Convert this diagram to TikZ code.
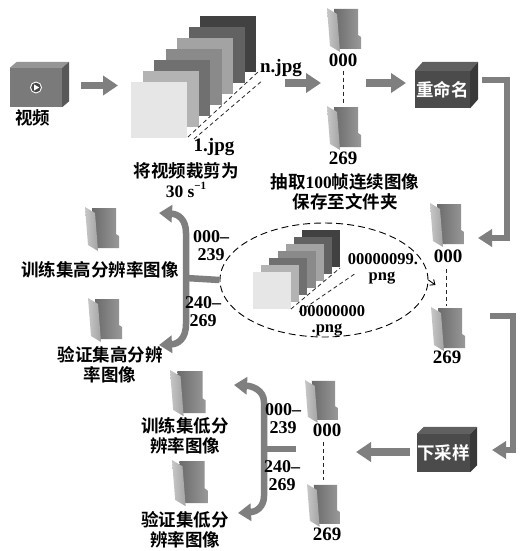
\documentclass[tikz,border=0pt]{standalone}
\usepackage{fontspec}
\setmainfont{Liberation Serif}
\newfontfamily\cjk{Noto Sans CJK SC}[BoldFont={Noto Sans CJK SC Bold}]
\usetikzlibrary{arrows.meta,shapes.geometric}

\definecolor{ag}{HTML}{7F7F7F}
\definecolor{s1}{HTML}{E6E6E6}
\definecolor{s2}{HTML}{B3B3B3}
\definecolor{s3}{HTML}{707070}
\definecolor{s4}{HTML}{8A8A8A}
\definecolor{s5}{HTML}{A3A3A3}
\definecolor{s6}{HTML}{626262}
\definecolor{s7}{HTML}{414141}
\definecolor{vfront}{HTML}{7A7A7A}
\definecolor{vtop}{HTML}{959595}
\definecolor{vside}{HTML}{585858}
\definecolor{dfront}{HTML}{4B4B4B}
\definecolor{dtop}{HTML}{606060}
\definecolor{dside}{HTML}{383838}

% top and right faces of a box-shaped node
\newcommand\boxfaces[5]{%
  \fill[#4] (#1.north west) -- ++(#2,-#3) -- ([shift={(#2,-#3)}]#1.north east) -- (#1.north east) -- cycle;
  \fill[#5] (#1.north east) -- ++(#2,-#3) -- ([shift={(#2,-#3)}]#1.south east) -- (#1.south east) -- cycle;}

\tikzset{
  folder/.pic={
    \shade[left color=black!58, right color=black!40]
      (7,1) -- (31,1) -- (31,27) -- (34,29) -- (34,41) -- (10,41) -- cycle;
    \shade[left color=black!22, right color=black!36]
      (0,0) -- (10,6) -- (13,44) -- (3,38) -- cycle;
  },
  zh/.style={font=\fontsize{17.5}{20}\selectfont\cjk\bfseries, inner sep=0pt, align=center},
  num/.style={font=\fontsize{19}{20}\selectfont\bfseries, inner sep=0pt, align=center},
  rng/.style={font=\fontsize{18}{18}\selectfont\bfseries, inner sep=0pt, align=center},
  png/.style={font=\fontsize{16.5}{17}\selectfont\bfseries, inner sep=0pt, anchor=base},
  blk/.style={draw=ag, line width=7.5pt, -{Triangle[width=19pt,length=15pt]}},
  conn/.style={draw=ag, line width=6.5pt, -{Triangle[width=17pt,length=14pt]}},
  link/.style={draw=ag, line width=6.5pt},
  fork/.style={draw=ag, line width=6.5pt, {Triangle[width=17pt,length=13pt]}-{Triangle[width=17pt,length=13pt]}},
  dotl/.style={draw=black!85, line width=0.8pt, dash pattern=on 4pt off 3pt},
  proc/.style={minimum width=55pt, minimum height=37pt, inner sep=0pt, fill=dfront,
    text=white, font=\fontsize{17.5}{20}\selectfont\cjk\bfseries},
}

\begin{document}
\begin{tikzpicture}[x=1pt,y=-1pt]
\useasboundingbox[fill=white] (0,0) rectangle (530,551);

% ---- video source ----
\node[minimum width=52pt, minimum height=39pt, inner sep=0pt, fill=vfront] (video) at (36,87.5) {};
\boxfaces{video}{7}{6}{vtop}{vside}
\fill[black!72] (video.center) circle (5.5);
\draw[white, line width=0.9pt] (video.center) circle (5.5);
\fill[white] ([shift={(-1.8,-3)}]video.center) -- ([shift={(-1.8,3)}]video.center) -- ([shift={(3.2,0)}]video.center) -- cycle;
\node[zh] (videolbl) at (33,118) {视频};

% ---- cut frames ----
\foreach \i/\c in {6/s7,5/s6,4/s5,3/s4,2/s3,1/s2,0/s1}
  \fill[\c] (131+11.5*\i, 82-11*\i) rectangle ++(56,56);
\coordinate (j1a) at (188,137); \coordinate (j1b) at (258,72);
\coordinate (j2a) at (194,139); \coordinate (j2b) at (263,80);
\draw[dotl] (j1a) -- (j1b);
\draw[dotl] (j2a) -- (j2b);
\node[num] (nj) at (281,68) {n.jpg};
\node[num] (onej) at (214,147) {1.jpg};
\node[zh] (cutlbl) at (186,180) {将视频裁剪为\\{\rmfamily 30 s\raisebox{0.45em}{\fontsize{11}{11}\selectfont −1}}};

% ---- extracted folders ----
\pic at (327,8) {folder};
\node[num] (t000) at (343,60) {000};
\pic at (327,106) {folder};
\node[num] (t269) at (343,158) {269};
\draw[dotl] (t000.south) ++(0,4) coordinate (td1) -- (343,105) coordinate (td2);
\node[zh] (extlbl) at (345,192) {抽取{\rmfamily 100}帧连续图像\\保存至文件夹};

% ---- rename ----
\node[proc] (rename) at (442.5,89.5) {重命名};
\boxfaces{rename}{8}{9}{dtop}{dside}

% ---- renamed folders ----
\pic at (430,203) {folder};
\node[num] (r000) at (448,256) {000};
\draw[dotl] (446,269) coordinate (rd1) -- (446,306) coordinate (rd2);
\pic at (431,307) {folder};
\node[num] (r269) at (447,357) {269};

% ---- renamed png group ----
\node[draw, ellipse, dash pattern=on 7pt off 4pt, line width=0.9pt,
      minimum width=208pt, minimum height=114pt, inner sep=0pt] (grp) at (324,280) {};
\draw[line width=0.9pt, -{Straight Barb[length=4pt,width=7pt]}] (grp.east) -- ++(7,5) coordinate (hook);
\foreach \i/\c in {6/s7,5/s6,4/s5,3/s4,2/s3,1/s2,0/s1}
  \fill[\c] (253+8.2*\i, 272-7*\i) rectangle ++(38,37);
\coordinate (p1a) at (291,309); \coordinate (p1b) at (340,268);
\coordinate (p2a) at (299,312); \coordinate (p2b) at (356,273);
\draw[dotl] (p1a) -- (p1b);
\draw[dotl] (p2a) -- (p2b);
\node[png] (p99a) at (383,264) {00000099.};
\node[png] (p99b) at (382,280) {png};
\node[png] (p00a) at (332,316) {00000000};
\node[png] (p00b) at (327,332) {.png};

% ---- high resolution split ----
\coordinate (hs) at (186,278);
\coordinate (ht) at (159,213);
\coordinate (hb) at (159,345);
\draw[link] (grp.west) -- (hs);
\draw[fork] (ht) .. controls (178,214) and (186,219) .. (186,233) -- (186,324)
  .. controls (186,339) and (178,344) .. (hb);
\node[rng] (h1) at (211,246) {000–\\239};
\node[rng] (h2) at (203,312) {240–\\269};
\pic at (85,207) {folder};
\node[zh] (htrain) at (100,270) {训练集高分辨率图像};
\pic at (88,298) {folder};
\node[zh] (hval) at (110,365) {验证集高分辨\\率图像};

% ---- downsampling ----
\node[proc, minimum width=53pt, minimum height=38pt] (down) at (443.5,453) {下采样};
\boxfaces{down}{7}{7}{dtop}{dside}

% ---- low resolution folders ----
\pic[scale=0.97] at (305,380) {folder};
\node[num] (l000) at (327,430) {000};
\draw[dotl] (323,442) coordinate (ld1) -- (323,480) coordinate (ld2);
\pic[scale=0.97] at (307,484) {folder};
\node[num] (l269) at (327,534) {269};

% ---- low resolution split ----
\coordinate (ls) at (264,449);
\coordinate (lr) at (296,449);
\coordinate (lt) at (234,385);
\coordinate (lb) at (238,513);
\draw[link] (lr) -- (ls);
\draw[fork] (lt) .. controls (252,386) and (264,390) .. (264,402) -- (264,496)
  .. controls (264,507) and (256,512) .. (lb);
\node[rng] (l1) at (283,419) {000–\\239};
\node[rng] (l2) at (282,476) {240–\\269};
\pic[scale=1.05] at (170,370) {folder};
\node[zh] (ltrain) at (185,436) {训练集低分\\辨率图像};
\pic[scale=1.05] at (172,460) {folder};
\node[zh] (lval) at (185,530) {验证集低分\\辨率图像};

% ---- flow arrows ----
\coordinate (a1s) at (81,85.5);  \coordinate (a1e) at (118,85.5);
\coordinate (a2s) at (285,83);   \coordinate (a2e) at (321,83);
\coordinate (a3s) at (366,83);   \coordinate (a3e) at (406,83);
\draw[blk] (a1s) -- (a1e);
\draw[blk] (a2s) -- (a2e);
\draw[blk] (a3s) -- (a3e);

\coordinate (c1s) at (482,80);  \coordinate (c1e) at (478,238);
\draw[conn] (c1s) -- (507,80) -- (507,238) -- (c1e);
\coordinate (c2s) at (490,316); \coordinate (c2e) at (492,450);
\draw[conn] (c2s) -- (513,316) -- (513,450) -- (c2e);
\coordinate (c3s) at (410,452); \coordinate (c3e) at (356,452);
\draw[blk] (c3s) -- (c3e);

\end{tikzpicture}
\end{document}
